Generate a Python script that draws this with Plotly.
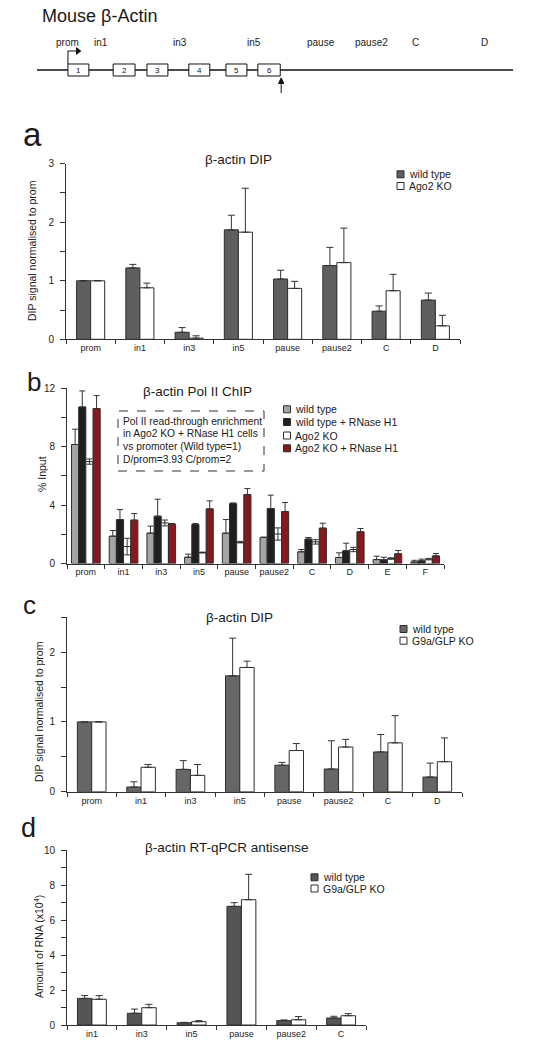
import plotly.graph_objects as go

W, H = 536, 1047
FONT = "Liberation Sans, Arial, sans-serif"

# ---------------- data ----------------
# gene diagram (positions along the gene, arbitrary units 0-100)
gene_labels = ["prom", "in1", "in3", "in5", "pause", "pause2", "C", "D"]
gene_label_pos = [6.5, 13.4, 30.0, 45.6, 59.7, 70.2, 79.6, 94.1]
exon_names = ["1", "2", "3", "4", "5", "6"]
exon_start = [6.5, 16.0, 23.1, 31.9, 39.7, 46.4]
exon_end = [10.9, 20.6, 27.5, 36.3, 44.1, 51.1]
gene_end = 100.0
tes_pos = 51.3

# panel a
a_cats = ["prom", "in1", "in3", "in5", "pause", "pause2", "C", "D"]
a_names = ["wild type", "Ago2 KO"]
a_wt = [1.0, 1.22, 0.12, 1.87, 1.03, 1.26, 0.48, 0.67]
a_wt_err = [0, 0.06, 0.08, 0.25, 0.15, 0.31, 0.09, 0.12]
a_ko = [1.0, 0.88, 0.02, 1.83, 0.87, 1.31, 0.83, 0.23]
a_ko_err = [0, 0.08, 0.04, 0.75, 0.12, 0.59, 0.28, 0.18]

# panel b
b_cats = ["prom", "in1", "in3", "in5", "pause", "pause2", "C", "D", "E", "F"]
b_names = ["wild type", "wild type + RNase H1", "Ago2 KO", "Ago2 KO + RNase H1"]
b_wt = [8.15, 1.87, 2.08, 0.43, 2.08, 1.78, 0.80, 0.41, 0.27, 0.10]
b_wt_err = [1.05, 0.39, 0.48, 0.21, 0.93, 0.03, 0.16, 0.32, 0.23, 0.12]
b_wt_rh = [10.72, 3.01, 3.24, 2.67, 4.10, 3.76, 1.67, 0.87, 0.25, 0.18]
b_wt_rh_err = [1.10, 0.69, 1.16, 0.07, 0.05, 0.92, 0.11, 0.52, 0.18, 0.12]
b_ko = [6.98, 1.16, 2.78, 0.75, 1.46, 2.02, 1.48, 0.96, 0.34, 0.30]
b_ko_err = [0.18, 0.57, 0.20, 0.03, 0.05, 0.42, 0.15, 0.15, 0.05, 0.05]
b_ko_rh = [10.61, 2.97, 2.69, 3.74, 4.72, 3.56, 2.42, 2.17, 0.66, 0.52]
b_ko_rh_err = [0.89, 0.45, 0.05, 0.55, 0.41, 0.62, 0.34, 0.23, 0.23, 0.16]
b_note = ["Pol II read-through enrichment", "in Ago2 KO + RNase H1 cells",
          "vs promoter (Wild type=1)", "D/prom=3.93 C/prom=2"]

# panel c
c_cats = ["prom", "in1", "in3", "in5", "pause", "pause2", "C", "D"]
c_names = ["wild type", "G9a/GLP KO"]
c_wt = [1.0, 0.067, 0.32, 1.66, 0.38, 0.325, 0.57, 0.21]
c_wt_err = [0, 0.075, 0.125, 0.54, 0.04, 0.405, 0.25, 0.20]
c_ko = [1.0, 0.35, 0.234, 1.78, 0.59, 0.64, 0.70, 0.43]
c_ko_err = [0, 0.04, 0.156, 0.09, 0.10, 0.11, 0.39, 0.34]

# panel d
d_cats = ["in1", "in3", "in5", "pause", "pause2", "C"]
d_names = ["wild type", "G9a/GLP KO"]
d_wt = [1.52, 0.67, 0.13, 6.78, 0.25, 0.40]
d_wt_err = [0.16, 0.24, 0.02, 0.21, 0.04, 0.10]
d_ko = [1.47, 0.99, 0.19, 7.16, 0.30, 0.53]
d_ko_err = [0.21, 0.19, 0.06, 1.45, 0.18, 0.12]


# ---------------- helpers ----------------
def px(x):
    return x / W


def py(y):
    return 1 - y / H


fig = go.Figure()
annotations = []
shapes = []

EDGE = "#2e2e2e"


def add_bars(xa, ya, cats, vals, errs, color, width, offset, symmetric=False, capw=3):
    fig.add_trace(go.Bar(
        x=cats, y=vals, xaxis=xa, yaxis=ya, width=width, offset=offset,
        marker=dict(color=color, line=dict(color=EDGE, width=1)),
        error_y=dict(type="data", array=errs,
                     arrayminus=errs if symmetric else [0] * len(errs),
                     symmetric=False, color="#333333", thickness=1, width=capw),
        showlegend=False, hoverinfo="skip"))


def text(x, y, t, size, **kw):
    d = dict(x=px(x), y=py(y), xref="paper", yref="paper", text=t, showarrow=False,
             font=dict(family=FONT, size=size, color=kw.pop("color", "#1a1a1a")),
             xanchor=kw.pop("xanchor", "center"), yanchor=kw.pop("yanchor", "middle"))
    d.update(kw)
    annotations.append(d)


def legend(x, ys, names, colors, size=10.5):
    for y, n, c in zip(ys, names, colors):
        shapes.append(dict(type="rect", xref="paper", yref="paper",
                           x0=px(x), x1=px(x + 7), y0=py(y + 3.5), y1=py(y - 3.5),
                           fillcolor=c, line=dict(color=EDGE, width=1)))
        text(x + 9.5, y, n, size, xanchor="left")


# ---------------- panels ----------------
WT_A = "#5f5f5f"
add_bars("x", "y", a_cats, a_wt, a_wt_err, WT_A, 0.285, -0.285, capw=3.5)
add_bars("x", "y", a_cats, a_ko, a_ko_err, "#ffffff", 0.285, 0.0, capw=3.5)

B_COLS = ["#a4a4a4", "#1f1f1f", "#ffffff", "#841a1d"]
bw = 0.19
add_bars("x2", "y2", b_cats, b_wt, b_wt_err, B_COLS[0], bw, -2 * bw, capw=3)
add_bars("x2", "y2", b_cats, b_wt_rh, b_wt_rh_err, B_COLS[1], bw, -bw, capw=3)
add_bars("x2", "y2", b_cats, b_ko, b_ko_err, B_COLS[2], bw, 0.0, symmetric=True, capw=3)
add_bars("x2", "y2", b_cats, b_ko_rh, b_ko_rh_err, B_COLS[3], bw, bw, capw=3)

WT_C = "#666666"
add_bars("x3", "y3", c_cats, c_wt, c_wt_err, WT_C, 0.29, -0.29, capw=3.5)
add_bars("x3", "y3", c_cats, c_ko, c_ko_err, "#ffffff", 0.29, 0.0, capw=3.5)

WT_D = "#555555"
add_bars("x4", "y4", d_cats, d_wt, d_wt_err, WT_D, 0.29, -0.29, capw=3.5)
add_bars("x4", "y4", d_cats, d_ko, d_ko_err, "#ffffff", 0.29, 0.0, capw=3.5)


def xaxis_cfg(x0, x1, n, anchor):
    return dict(domain=[px(x0), px(x1)], anchor=anchor, type="category",
                range=[-0.5, n - 0.5], tickson="boundaries", ticks="outside",
                ticklen=4, tickcolor="#333", showline=True, linecolor="#333",
                linewidth=1, showgrid=False, zeroline=False, fixedrange=True,
                automargin=False, tickangle=0,
                tickfont=dict(family=FONT, size=9, color="#222"))


def yaxis_cfg(ytop, ybot, rng, dtick, minor, anchor):
    return dict(domain=[py(ybot), py(ytop)], anchor=anchor, range=rng,
                dtick=dtick, tick0=0, ticks="outside", ticklen=5, tickcolor="#333",
                minor=dict(dtick=minor, tick0=0, ticks="outside", ticklen=5, tickcolor="#333"),
                showline=True, linecolor="#333", linewidth=1, showgrid=False,
                zeroline=False, ticklabelstandoff=4, automargin=False, fixedrange=True,
                tickfont=dict(family=FONT, size=10, color="#222"))


layout = dict(
    width=W, height=H, margin=dict(l=0, r=0, t=0, b=0, autoexpand=False),
    paper_bgcolor="white", plot_bgcolor="white", barmode="overlay",
    showlegend=False, font=dict(family=FONT),
    xaxis=xaxis_cfg(66, 460, len(a_cats), "y"),
    yaxis=yaxis_cfg(163.7, 339.3, [0, 3], 1, 0.5, "x"),
    xaxis2=xaxis_cfg(67, 444, len(b_cats), "y2"),
    yaxis2=yaxis_cfg(388.3, 563.5, [0, 12], 4, 2, "x2"),
    xaxis3=xaxis_cfg(67, 462, len(c_cats), "y3"),
    yaxis3=yaxis_cfg(617.2, 791.7, [0, 2.5], 1, 0.5, "x3"),
    xaxis4=xaxis_cfg(67, 366, len(d_cats), "y4"),
    yaxis4=yaxis_cfg(850, 1025, [0, 10], 2, 1, "x4"),
    xaxis5=dict(domain=[px(37), px(513)], anchor="y5", range=[0, 100], visible=False,
                fixedrange=True, automargin=False),
    yaxis5=dict(domain=[py(100), py(35)], anchor="x5", range=[0, 1], visible=False,
                fixedrange=True, automargin=False),
)

# ---------------- gene diagram ----------------
LINE_V = 0.4615
BOX_LO, BOX_HI = 0.369, 0.554
shapes.append(dict(type="line", xref="x5", yref="y5", x0=0, x1=gene_end,
                   y0=LINE_V, y1=LINE_V, line=dict(color="#111", width=1.5)))
for s, e, n in zip(exon_start, exon_end, exon_names):
    shapes.append(dict(type="rect", xref="x5", yref="y5", x0=s, x1=e, y0=BOX_LO, y1=BOX_HI,
                       fillcolor="white", line=dict(color="#111", width=1)))
    annotations.append(dict(x=(s + e) / 2, y=(BOX_LO + BOX_HI) / 2, xref="x5", yref="y5",
                            text=n, showarrow=False,
                            font=dict(family=FONT, size=8, color="#111")))
for lab, pos in zip(gene_labels, gene_label_pos):
    annotations.append(dict(x=pos, y=0.877, xref="x5", yref="y5", text=lab, showarrow=False,
                            font=dict(family=FONT, size=10, color="#1a1a1a")))
# promoter arrow (bent arrow from exon 1)
P_Y = 0.754
p0 = exon_start[0]
shapes.append(dict(type="path", xref="x5", yref="y5",
                   path=f"M{p0},{BOX_HI} L{p0},{P_Y} L{p0 + 2.0},{P_Y}",
                   line=dict(color="#111", width=1)))
shapes.append(dict(type="path", xref="x5", yref="y5",
                   path=f"M{p0 + 2.7},{P_Y} L{p0 + 1.8},{P_Y + 0.05} L{p0 + 1.8},{P_Y - 0.05} Z",
                   fillcolor="#111", line=dict(color="#111", width=1)))
# end-of-gene arrow
shapes.append(dict(type="line", xref="x5", yref="y5", x0=tes_pos, x1=tes_pos,
                   y0=0.105, y1=0.28, line=dict(color="#111", width=1)))
shapes.append(dict(type="path", xref="x5", yref="y5",
                   path=f"M{tes_pos},{0.34} L{tes_pos - 0.55},{0.255} L{tes_pos + 0.55},{0.255} Z",
                   fillcolor="#111", line=dict(color="#111", width=1)))

text(40, 16, "Mouse β-Actin", 18, xanchor="left")

# ---------------- panel letters ----------------
text(21, 135, "a", 33, xanchor="left")
text(25, 382, "b", 26, xanchor="left")
text(21, 605, "c", 26, xanchor="left")
text(19, 828, "d", 27, xanchor="left")

# ---------------- titles ----------------
text(238, 159, "β-actin DIP", 13.5)
text(197, 391.5, "β-actin Pol II ChIP", 13.5)
text(239, 617, "β-actin DIP", 13.5)
text(227, 847, "β-actin RT-qPCR antisense", 13.5)

# y axis titles
text(32, 251, "DIP signal normalised to prom", 10.5, textangle=-90)
text(42, 474, "% Input", 10.5, textangle=-90)
text(39, 712, "DIP signal normalised to prom", 10.5, textangle=-90)
text(38, 947, "Amount of RNA (x10<sup>4</sup>)", 10.5, textangle=-90)

# ---------------- legends ----------------
legend(397, [174.3, 186], a_names, [WT_A, "#ffffff"])
legend(283.5, [409.3, 422, 435.5, 448.3], b_names, B_COLS)
legend(400, [629, 640.7], c_names, [WT_C, "#ffffff"])
legend(311, [877.3, 888.5], d_names, [WT_D, "#ffffff"])

# ---------------- panel b note box ----------------
shapes.append(dict(type="rect", xref="paper", yref="paper", x0=px(118), x1=px(264),
                   y0=py(471), y1=py(411), line=dict(color="#333", width=1, dash="dash")))
for i, line in enumerate(b_note):
    text(121, 421 + i * 12.8, line, 10.3, xanchor="left")

layout["annotations"] = annotations
layout["shapes"] = shapes
fig.update_layout(**layout)
fig.write_html(
    "out.html",
    config={"displayModeBar": False},
    post_script="document.body.style.margin='0';document.body.style.overflow='hidden';",
)
